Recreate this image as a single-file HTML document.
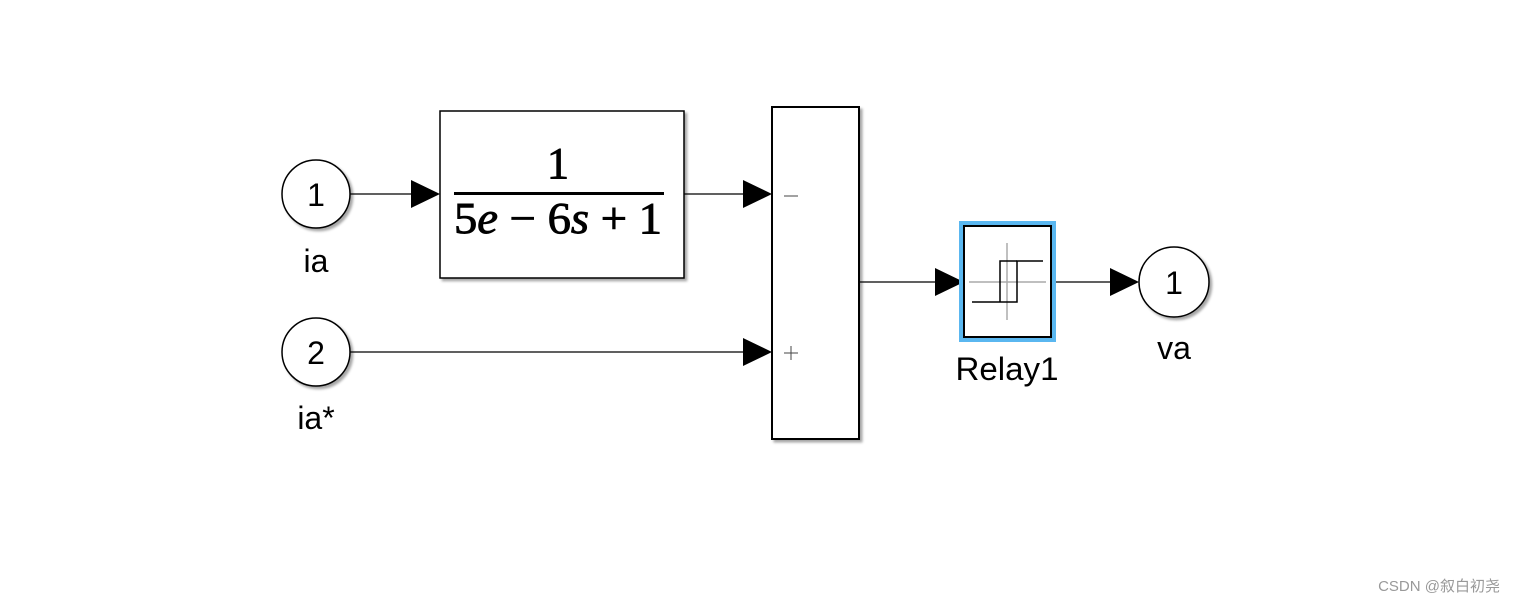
<!DOCTYPE html>
<html><head><meta charset="utf-8"><style>
html,body{margin:0;padding:0;background:#fff;}
svg{display:block;}
</style></head><body>
<svg width="1516" height="605" viewBox="0 0 1516 605" xmlns="http://www.w3.org/2000/svg">
<defs>
<filter id="sh" x="-10%" y="-10%" width="130%" height="130%">
<feDropShadow dx="2.5" dy="2.5" stdDeviation="1.2" flood-color="#000" flood-opacity="0.35"/>
</filter>
</defs>
<rect width="1516" height="605" fill="#fff"/>
<g stroke="#000" stroke-width="1.2">
<line x1="350" y1="194" x2="412" y2="194"/>
<line x1="684" y1="194" x2="744" y2="194"/>
<line x1="350" y1="352" x2="744" y2="352"/>
<line x1="859" y1="282" x2="936" y2="282"/>
<line x1="1051" y1="282" x2="1111" y2="282"/>
</g>
<g fill="#000">
<polygon points="411,180 440,194 411,208"/>
<polygon points="743,180 772,194 743,208"/>
<polygon points="743,338 772,352 743,366"/>
<polygon points="935,268 964,282 935,296"/>
<polygon points="1110,268 1139,282 1110,296"/>
</g>
<g filter="url(#sh)" fill="#fff" stroke="#000" stroke-width="1.5">
<circle cx="316" cy="194" r="34"/>
<circle cx="316" cy="352" r="34"/>
<circle cx="1174" cy="282" r="35"/>
<rect x="440" y="111" width="244" height="167"/>
<rect x="772" y="107" width="87" height="332" stroke-width="2"/>
</g>
<g font-family="Liberation Sans, Arial, sans-serif" font-size="32" fill="#000" text-anchor="middle">
<text x="316" y="206">1</text>
<text x="316" y="364">2</text>
<text x="1174" y="294">1</text>
<text x="316" y="272">ia</text>
<text x="316" y="429">ia*</text>
<text x="1007" y="380" textLength="103" lengthAdjust="spacingAndGlyphs">Relay1</text>
<text x="1174" y="359">va</text>
</g>
<g font-family="Liberation Serif, 'Times New Roman', serif" fill="#000" stroke="#000" stroke-width="0.9" font-size="44">
<text x="558" y="178" text-anchor="middle">1</text>
<text x="454" y="233" textLength="208" lengthAdjust="spacingAndGlyphs">5<tspan font-style="italic">e</tspan> − 6<tspan font-style="italic">s</tspan> + 1</text>
</g>
<rect x="454" y="192" width="210" height="3" fill="#000"/>
<g stroke="#444" stroke-width="1">
<line x1="784" y1="196" x2="798" y2="196"/>
<line x1="784" y1="353" x2="798" y2="353"/>
<line x1="791" y1="346" x2="791" y2="360"/>
</g>
<rect x="959" y="221" width="97" height="121" fill="#5ab7f0"/>
<rect x="964" y="226" width="87" height="111" fill="#fff" stroke="#000" stroke-width="2"/>
<g stroke="#aaa" stroke-width="1.5">
<line x1="1007" y1="243" x2="1007" y2="320"/>
<line x1="969" y1="282" x2="1046" y2="282"/>
</g>
<g stroke="#000" stroke-width="1.5" fill="none">
<polyline points="972,302 1017,302 1017,261 1043,261"/>
<polyline points="1000,302 1000,261 1017,261"/>
</g>
<text x="1500" y="591" text-anchor="end" font-family="Liberation Sans, 'Noto Sans CJK SC', sans-serif" font-size="15" fill="#999">CSDN @叙白初尧</text>
</svg>
</body></html>
